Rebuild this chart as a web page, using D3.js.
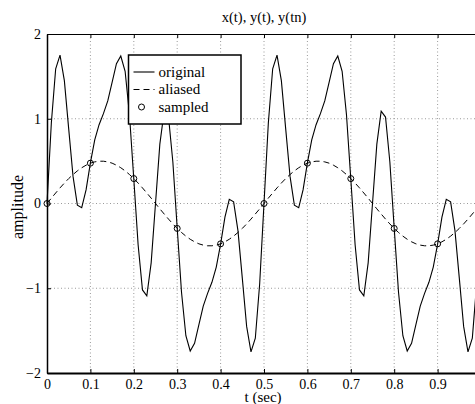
<!DOCTYPE html>
<html>
<head>
<meta charset="utf-8">
<script src="https://cdn.jsdelivr.net/npm/d3@7"></script>
<style>
  body { margin: 0; background: #fff; }
  svg { display: block; overflow: hidden; }
  text { font-family: "Liberation Serif", "Times New Roman", serif; fill: #000; }
</style>
</head>
<body>
<div id="chart"></div>
<script>
// time grid, 0 .. 1 sec in 0.01 steps
var tGrid = d3.range(0, 101).map(function(i) { return i / 100; });

// original signal x(t) (one value per 0.01 s)
var original = [
   0.00,  0.95,  1.59,  1.75,  1.45,  0.88,  0.32, -0.02, -0.05,  0.16,
   0.48,  0.75,  0.93,  1.06,  1.21,  1.43,  1.65,  1.74,  1.56,  1.05,
   0.29, -0.49, -1.02, -1.09, -0.70,  0.00,  0.70,  1.09,  1.02,  0.49,
  -0.29, -1.05, -1.56, -1.74, -1.65, -1.43, -1.21, -1.06, -0.93, -0.75,
  -0.48, -0.16,  0.05,  0.02, -0.32, -0.88, -1.45, -1.75, -1.59, -0.95,
   0.00,  0.95,  1.59,  1.75,  1.45,  0.88,  0.32, -0.02, -0.05,  0.16,
   0.48,  0.75,  0.93,  1.06,  1.21,  1.43,  1.65,  1.74,  1.56,  1.05,
   0.29, -0.49, -1.02, -1.09, -0.70,  0.00,  0.70,  1.09,  1.02,  0.49,
  -0.29, -1.05, -1.56, -1.74, -1.65, -1.43, -1.21, -1.06, -0.93, -0.75,
  -0.48, -0.16,  0.05,  0.02, -0.32, -0.88, -1.45, -1.75, -1.59, -0.95,
   0.00
];

// aliased signal y(t)
var aliased = [
   0.000,  0.063,  0.124,  0.184,  0.241,  0.294,  0.342,  0.385,  0.422,  0.452,
   0.476,  0.491,  0.499,  0.499,  0.491,  0.476,  0.452,  0.422,  0.385,  0.342,
   0.294,  0.241,  0.184,  0.124,  0.063,  0.000, -0.063, -0.124, -0.184, -0.241,
  -0.294, -0.342, -0.385, -0.422, -0.452, -0.476, -0.491, -0.499, -0.499, -0.491,
  -0.476, -0.452, -0.422, -0.385, -0.342, -0.294, -0.241, -0.184, -0.124, -0.063,
   0.000,  0.063,  0.124,  0.184,  0.241,  0.294,  0.342,  0.385,  0.422,  0.452,
   0.476,  0.491,  0.499,  0.499,  0.491,  0.476,  0.452,  0.422,  0.385,  0.342,
   0.294,  0.241,  0.184,  0.124,  0.063,  0.000, -0.063, -0.124, -0.184, -0.241,
  -0.294, -0.342, -0.385, -0.422, -0.452, -0.476, -0.491, -0.499, -0.499, -0.491,
  -0.476, -0.452, -0.422, -0.385, -0.342, -0.294, -0.241, -0.184, -0.124, -0.063,
   0.000
];

// samples y(tn)
var sampleT = [0, 0.1, 0.2, 0.3, 0.4, 0.5, 0.6, 0.7, 0.8, 0.9, 1.0];
var sampleV = [0, 0.476, 0.294, -0.294, -0.476, 0, 0.476, 0.294, -0.294, -0.476, 0];

var xTicks = [0, 0.1, 0.2, 0.3, 0.4, 0.5, 0.6, 0.7, 0.8, 0.9, 1];
var yTicks = [-2, -1, 0, 1, 2];
var legendLabels = ["original", "aliased", "sampled"];

function drawChart()
{
    var W = 475, H = 404;
    var pLeft = 47, pTop = 34, pRight = 481, pBottom = 373;

    var svg = d3.select("#chart").append("svg")
        .attr("width", W)
        .attr("height", H);

    var x = d3.scaleLinear().domain([0, 1]).range([pLeft, pRight]);
    var y = d3.scaleLinear().domain([-2, 2]).range([pBottom, pTop]);

    // dotted grid
    var grid = svg.append("g").attr("class", "grid");
    grid.selectAll(".gx")
        .data(xTicks.slice(1, -1))
      .enter().append("line")
        .attr("x1", function(d) { return x(d); })
        .attr("x2", function(d) { return x(d); })
        .attr("y1", pTop)
        .attr("y2", pBottom)
        .style("stroke", "#808080")
        .style("stroke-width", 0.8)
        .style("stroke-dasharray", "1,2.5");
    grid.selectAll(".gy")
        .data(yTicks.slice(1, -1))
      .enter().append("line")
        .attr("x1", pLeft)
        .attr("x2", pRight)
        .attr("y1", function(d) { return y(d); })
        .attr("y2", function(d) { return y(d); })
        .style("stroke", "#808080")
        .style("stroke-width", 0.8)
        .style("stroke-dasharray", "1,2.5");

    // axes, ticks inward (matlab style)
    var tickLen = 4;
    var xAxis = svg.append("g")
        .attr("transform", "translate(0," + pBottom + ")")
        .call(d3.axisBottom(x).tickValues(xTicks).tickSizeInner(-tickLen).tickSizeOuter(0)
              .tickPadding(8)
              .tickFormat(function(d) { return d >= 1 ? "" : String(d); }));
    var xAxisTop = svg.append("g")
        .attr("transform", "translate(0," + pTop + ")")
        .call(d3.axisTop(x).tickValues(xTicks).tickSizeInner(-tickLen).tickSizeOuter(0)
              .tickFormat(""));
    var yAxis = svg.append("g")
        .attr("transform", "translate(" + pLeft + ",0)")
        .call(d3.axisLeft(y).tickValues(yTicks).tickSizeInner(-tickLen).tickSizeOuter(0)
              .tickPadding(6)
              .tickFormat(function(d) { return d < 0 ? "\u2212" + (-d) : String(d); }));

    [xAxis, xAxisTop, yAxis].forEach(function(a) {
        a.selectAll("text").style("font-size", "14px").style("font-family", "'Liberation Serif', serif");
        a.selectAll("line").style("stroke", "#000");
    });
    xAxis.select(".domain").style("stroke", "#000").style("stroke-width", 2);
    xAxisTop.select(".domain").style("stroke", "#000").style("stroke-width", 1);
    yAxis.select(".domain").style("stroke", "#000").style("stroke-width", 1.5);
    xAxis.selectAll("text").attr("dy", "0.6em");

    // signals
    var sigLine = d3.line()
        .x(function(d, i) { return x(tGrid[i]); })
        .y(function(d) { return y(d); });

    svg.append("path")
        .datum(original)
        .attr("d", sigLine)
        .style("fill", "none")
        .style("stroke", "#000")
        .style("stroke-width", 1.1);

    svg.append("path")
        .datum(aliased)
        .attr("d", sigLine)
        .style("fill", "none")
        .style("stroke", "#000")
        .style("stroke-width", 1)
        .style("stroke-dasharray", "6,4");

    svg.selectAll(".sample")
        .data(sampleV)
      .enter().append("circle")
        .attr("class", "sample")
        .attr("cx", function(d, i) { return x(sampleT[i]); })
        .attr("cy", function(d) { return y(d); })
        .attr("r", 3)
        .style("fill", "none")
        .style("stroke", "#000")
        .style("stroke-width", 1);

    // labels
    svg.append("text")
        .attr("x", 264).attr("y", 22)
        .attr("text-anchor", "middle")
        .style("font-size", "14.5px")
        .text("x(t), y(t), y(tn)");

    svg.append("text")
        .attr("x", 263).attr("y", 401.5)
        .attr("text-anchor", "middle")
        .style("font-size", "15px")
        .text("t (sec)");

    svg.append("text")
        .attr("transform", "translate(23,207) rotate(-90)")
        .attr("text-anchor", "middle")
        .style("font-size", "16px")
        .text("amplitude");

    // legend
    var lg = svg.append("g").attr("transform", "translate(128.5,55)");
    lg.append("rect")
        .attr("width", 112.5).attr("height", 69)
        .style("fill", "#fff")
        .style("stroke", "#000")
        .style("stroke-width", 1.5);
    var rowY = [17, 34.5, 52];
    lg.append("line").attr("x1", 5).attr("x2", 26).attr("y1", rowY[0]).attr("y2", rowY[0])
        .style("stroke", "#000").style("stroke-width", 1.1);
    lg.append("line").attr("x1", 5).attr("x2", 26).attr("y1", rowY[1]).attr("y2", rowY[1])
        .style("stroke", "#000").style("stroke-width", 1).style("stroke-dasharray", "6,4");
    lg.append("circle").attr("cx", 13).attr("cy", rowY[2]).attr("r", 3)
        .style("fill", "none").style("stroke", "#000");
    lg.selectAll(".lt")
        .data(legendLabels)
      .enter().append("text")
        .attr("x", 30)
        .attr("y", function(d, i) { return rowY[i]; })
        .attr("dy", "0.32em")
        .style("font-size", "15px")
        .text(function(d) { return d; });
}

drawChart();
</script>
</body>
</html>
